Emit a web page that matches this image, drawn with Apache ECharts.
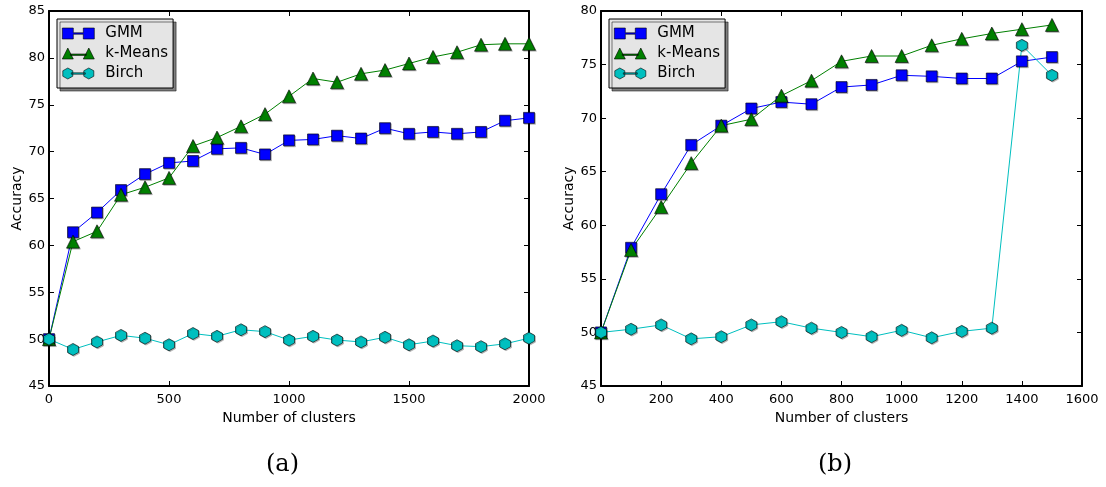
<!DOCTYPE html>
<html>
<head>
<meta charset="utf-8">
<script src="https://cdn.jsdelivr.net/npm/echarts@6/dist/echarts.min.js"></script>
<style>
  html, body { margin: 0; padding: 0; background: #fff; }
  #chart { width: 1106px; height: 487px; }
</style>
</head>
<body>
<div id="chart"></div>
<script>
// (a) number of clusters 0..2000
const clustersA = [0, 100, 200, 300, 400, 500, 600, 700, 800, 900, 1000, 1100, 1200, 1300, 1400, 1500, 1600, 1700, 1800, 1900, 2000]
const gmmA = [50.0, 61.4, 63.5, 65.9, 67.6, 68.8, 69.0, 70.3, 70.4, 69.7, 71.2, 71.3, 71.7, 71.4, 72.5, 71.9, 72.1, 71.9, 72.1, 73.3, 73.6]
const kmeansA = [50.0, 60.4, 61.5, 65.4, 66.2, 67.2, 70.6, 71.5, 72.7, 74.0, 75.9, 77.8, 77.4, 78.3, 78.7, 79.4, 80.1, 80.6, 81.4, 81.5, 81.5]
const birchA = [50.0, 48.9, 49.7, 50.4, 50.1, 49.4, 50.6, 50.3, 51.0, 50.8, 49.9, 50.3, 49.9, 49.7, 50.2, 49.4, 49.8, 49.3, 49.2, 49.5, 50.1]

// (b) number of clusters 0..1500
const clustersB = [0, 100, 200, 300, 400, 500, 600, 700, 800, 900, 1000, 1100, 1200, 1300, 1400, 1500]
const gmmB = [50.0, 57.9, 62.9, 67.5, 69.3, 70.9, 71.5, 71.3, 72.9, 73.1, 74.0, 73.9, 73.7, 73.7, 75.3, 75.7]
const kmeansB = [50.0, 57.7, 61.7, 65.8, 69.3, 69.9, 72.1, 73.5, 75.3, 75.8, 75.8, 76.8, 77.4, 77.9, 78.3, 78.7]
const birchB = [50.0, 50.3, 50.7, 49.4, 49.6, 50.7, 51.0, 50.4, 50.0, 49.6, 50.2, 49.5, 50.1, 50.4, 76.8, 74.0]

const hexagon = 'path://M0,-1 L0.866,-0.5 L0.866,0.5 L0,1 L-0.866,0.5 L-0.866,-0.5 Z'
// icônes de légende façon matplotlib : deux marqueurs reliés par un trait
const iconGmm = 'path://M0,0 H11 V4.8 H21 V0 H32 V11 H21 V6.2 H11 V11 H0 Z'
const iconKm = 'path://M0,11 L5.5,0 L11,11 Z M8,6 H24 V7.4 H8 Z M21,11 L26.5,0 L32,11 Z'
const iconBirch = 'path://M5.5,0 L10.5,2.75 L10.5,8.25 L5.5,11 L0.5,8.25 L0.5,2.75 Z M9,4.8 H23 V6.2 H9 Z M26.5,0 L31.5,2.75 L31.5,8.25 L26.5,11 L21.5,8.25 L21.5,2.75 Z'
const font = 'DejaVu Sans'

const chart = echarts.init(document.getElementById('chart'))

function pairs(xs, ys) {
  return xs.map((x, i) => [x, ys[i]])
}

function lineSeries(name, color, symbol, size, xi, data) {
  return {
    name: name,
    type: 'line',
    xAxisIndex: xi,
    yAxisIndex: xi,
    data: data,
    symbol: symbol,
    symbolSize: size,
    showAllSymbol: true,
    clip: true,
    animation: false,
    lineStyle: { color: color, width: 1 },
    itemStyle: {
      color: color,
      borderColor: '#000',
      borderWidth: 0.6,
      shadowColor: 'rgba(0,0,0,0.25)',
      shadowOffsetX: 1,
      shadowOffsetY: 1
    }
  }
}

function xAx(grid, max, interval, pos, name) {
  return {
    type: 'value', gridIndex: grid, min: 0, max: max, interval: interval,
    position: pos,
    name: name, nameLocation: 'middle', nameGap: 20,
    nameTextStyle: { fontFamily: font, fontSize: 14, color: '#000' },
    axisLine: { show: true, onZero: false, lineStyle: { color: '#000', width: 2 } },
    axisTick: { show: true, inside: true, length: 5, lineStyle: { color: '#000', width: 1 } },
    axisLabel: {
      show: pos === 'bottom', fontFamily: font, fontSize: 13, color: '#000', margin: 7,
      formatter: v => String(v)
    },
    splitLine: { show: false }
  }
}

function yAx(grid, min, max, pos, name) {
  return {
    type: 'value', gridIndex: grid, min: min, max: max, interval: 5,
    position: pos,
    name: name, nameLocation: 'middle', nameGap: 25,
    nameTextStyle: { fontFamily: font, fontSize: 14, color: '#000' },
    axisLine: { show: true, onZero: false, lineStyle: { color: '#000', width: 2 } },
    axisTick: { show: true, inside: true, length: 5, lineStyle: { color: '#000', width: 1 } },
    axisLabel: { show: pos === 'left', fontFamily: font, fontSize: 13, color: '#000', margin: 4 },
    splitLine: { show: false }
  }
}

function legendAt(left) {
  return {
    orient: 'vertical', left: left, top: 19,
    data: [
      { name: 'GMM', icon: iconGmm },
      { name: 'k-Means', icon: iconKm },
      { name: 'Birch', icon: iconBirch }
    ],
    itemWidth: 32, itemHeight: 11, itemGap: 5,
    padding: [7, 5, 7, 5],
    backgroundColor: '#e5e5e5',
    borderColor: '#000', borderWidth: 1,
    shadowColor: 'rgba(0,0,0,0.5)', shadowOffsetX: 3, shadowOffsetY: 3,
    itemStyle: { borderWidth: 0.6, borderColor: '#000', shadowColor: 'transparent' },
    lineStyle: { opacity: 0 },
    textStyle: { fontFamily: font, fontSize: 15, color: '#000', padding: [0, 0, 0, 6] }
  }
}

const option = {
  backgroundColor: '#fff',
  animation: false,
  grid: [
    { left: 49, right: 577, top: 11, bottom: 101 },
    { left: 601, right: 24, top: 11, bottom: 101 }
  ],
  xAxis: [
    xAx(0, 2000, 500, 'bottom', 'Number of clusters'),
    xAx(0, 2000, 500, 'top', ''),
    xAx(1, 1600, 200, 'bottom', 'Number of clusters'),
    xAx(1, 1600, 200, 'top', '')
  ],
  yAxis: [
    yAx(0, 45, 85, 'left', 'Accuracy'),
    yAx(0, 45, 85, 'right', ''),
    yAx(1, 45, 80, 'left', 'Accuracy'),
    yAx(1, 45, 80, 'right', '')
  ],
  legend: [legendAt(57), legendAt(609)],
  series: [
    lineSeries('GMM', '#0000ff', 'rect', 11, 0, pairs(clustersA, gmmA)),
    lineSeries('k-Means', '#008000', 'triangle', 13, 0, pairs(clustersA, kmeansA)),
    lineSeries('Birch', '#00bfbf', hexagon, [11, 12], 0, pairs(clustersA, birchA)),
    lineSeries('GMM', '#0000ff', 'rect', 11, 2, pairs(clustersB, gmmB)),
    lineSeries('k-Means', '#008000', 'triangle', 13, 2, pairs(clustersB, kmeansB)),
    lineSeries('Birch', '#00bfbf', hexagon, [11, 12], 2, pairs(clustersB, birchB))
  ],
  graphic: [
    { type: 'text', left: 266, top: 453, style: { text: '(a)', font: '24px "DejaVu Serif"', fill: '#000' } },
    { type: 'text', left: 818, top: 453, style: { text: '(b)', font: '24px "DejaVu Serif"', fill: '#000' } }
  ]
}

chart.setOption(option)
</script>
</body>
</html>
